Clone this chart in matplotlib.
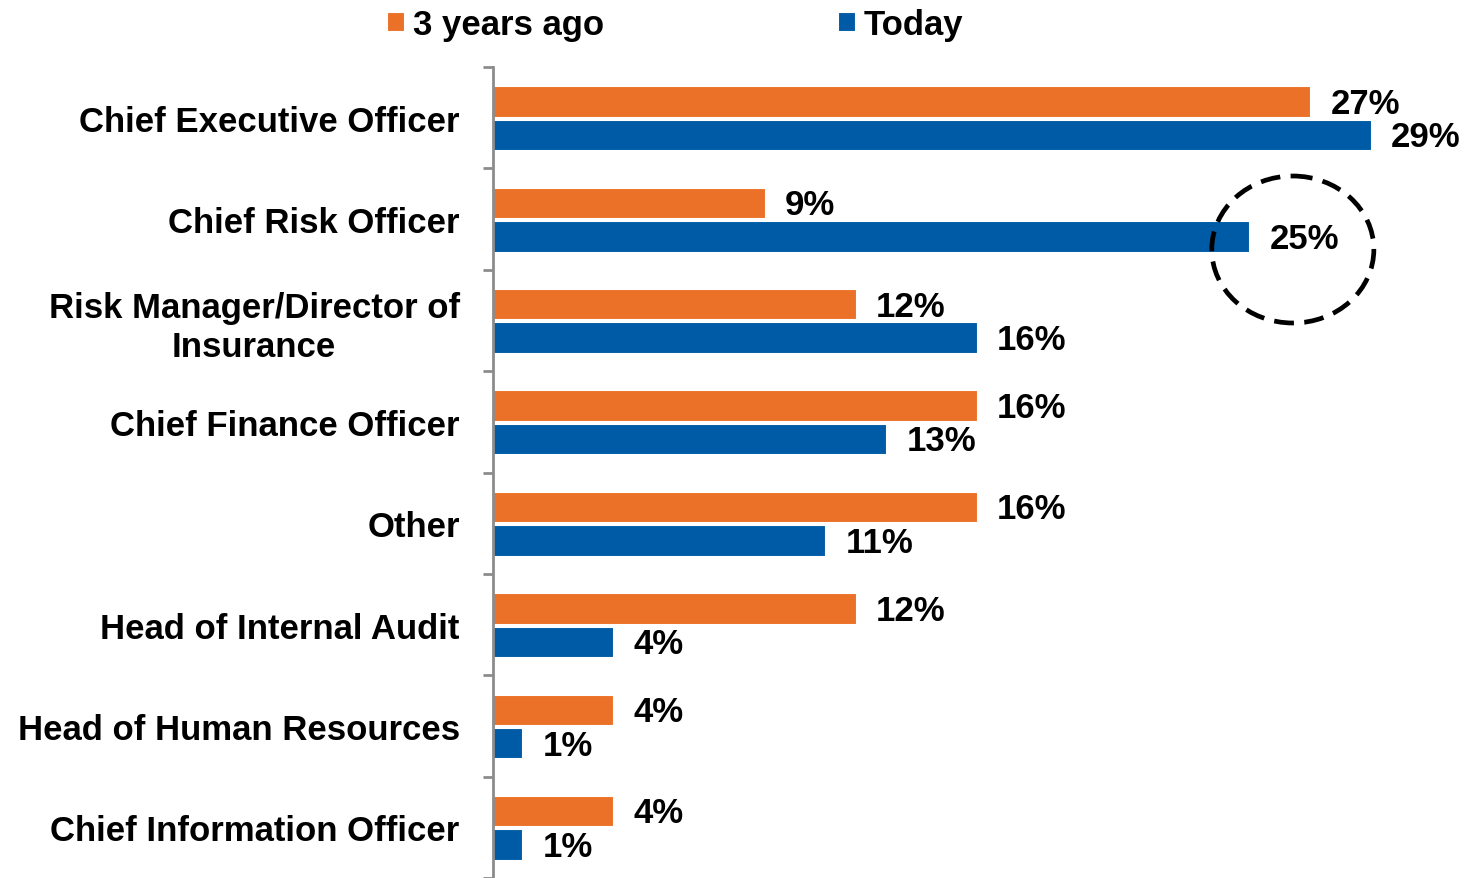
"""
Who owns risk management: share of respondents by role, 3 years ago vs today.

Draws a grouped horizontal bar chart and saves it as out.png.
"""

import matplotlib
matplotlib.use("Agg")
import matplotlib.pyplot as plt
from matplotlib.patches import Ellipse

roles = [
    "Chief Executive Officer",
    "Chief Risk Officer",
    "Risk Manager/Director of\nInsurance",
    "Chief Finance Officer",
    "Other",
    "Head of Internal Audit",
    "Head of Human Resources",
    "Chief Information Officer",
]
years_ago = [27, 9, 12, 16, 16, 12, 4, 4]
today = [29, 25, 16, 13, 11, 4, 1, 1]
series_names = ["3 years ago", "Today"]

ORANGE = "#EB7128"
BLUE = "#005BA6"
SPINE = "#8C8C8C"
FONT = 25


def plot_roles(graph_file):
    """Draw the grouped bar chart and save it to graph_file."""
    plt.rcParams["font.family"] = ["Liberation Sans", "DejaVu Sans"]
    plt.rcParams["font.weight"] = "bold"

    fig = plt.figure(figsize=(14.67, 8.79), dpi=100)
    ax = fig.add_axes([0.3361, 0.0, 0.6639, 0.9226])

    pos = range(len(roles))
    y_old = [i + 0.345 for i in pos]
    y_new = [i + 0.675 for i in pos]
    h = 0.31

    b1 = ax.barh(y_old, years_ago, height=h, color=ORANGE, edgecolor="white",
                 linewidth=1.5, label=series_names[0])
    b2 = ax.barh(y_new, today, height=h, color=BLUE, edgecolor="white",
                 linewidth=1.5, label=series_names[1])

    for bars, vals in ((b1, years_ago), (b2, today)):
        for bar, v in zip(bars, vals):
            ax.annotate(f"{v}%", (bar.get_width(), bar.get_y() + bar.get_height() / 2),
                        xytext=(14, -1), textcoords="offset points",
                        ha="left", va="center", fontsize=FONT, fontweight="bold")

    # highlight the CRO jump
    ax.add_patch(Ellipse((26.4, 1.8), 5.35, 1.45, fill=False, edgecolor="black",
                         linewidth=3.4, linestyle=(0, (4.2, 2.2)), clip_on=False))

    ax.set_xlim(0, 32.15)
    ax.set_ylim(len(roles), 0)

    ax.set_yticks(range(len(roles) + 1))
    ax.set_yticklabels([])
    ax.tick_params(axis="y", which="major", length=7, width=2, color=SPINE,
                   direction="out")
    ax.set_yticks([i + 0.5 for i in pos], minor=True)
    ax.set_yticklabels(roles, minor=True, fontsize=FONT, fontweight="bold")
    ax.tick_params(axis="y", which="minor", length=0, pad=24)
    for lab in ax.get_yticklabels(minor=True):
        lab.set_multialignment("center")
        lab.set_linespacing(1.25)

    ax.xaxis.set_visible(False)
    for side in ("top", "right", "bottom"):
        ax.spines[side].set_visible(False)
    ax.spines["left"].set_color(SPINE)
    ax.spines["left"].set_linewidth(2)

    fig.legend(handles=[b1, b2], labels=series_names, loc="upper left",
               bbox_to_anchor=(387 / 1467, 1 - 9 / 879), ncol=2, frameon=False,
               handlelength=0.51, handleheight=0.51,
               handletextpad=0.23, columnspacing=6.75, borderpad=0,
               borderaxespad=0, prop={"weight": "bold", "size": FONT})

    fig.savefig(graph_file, dpi=100)


def main():
    plot_roles("out.png")


if __name__ == "__main__":
    main()
